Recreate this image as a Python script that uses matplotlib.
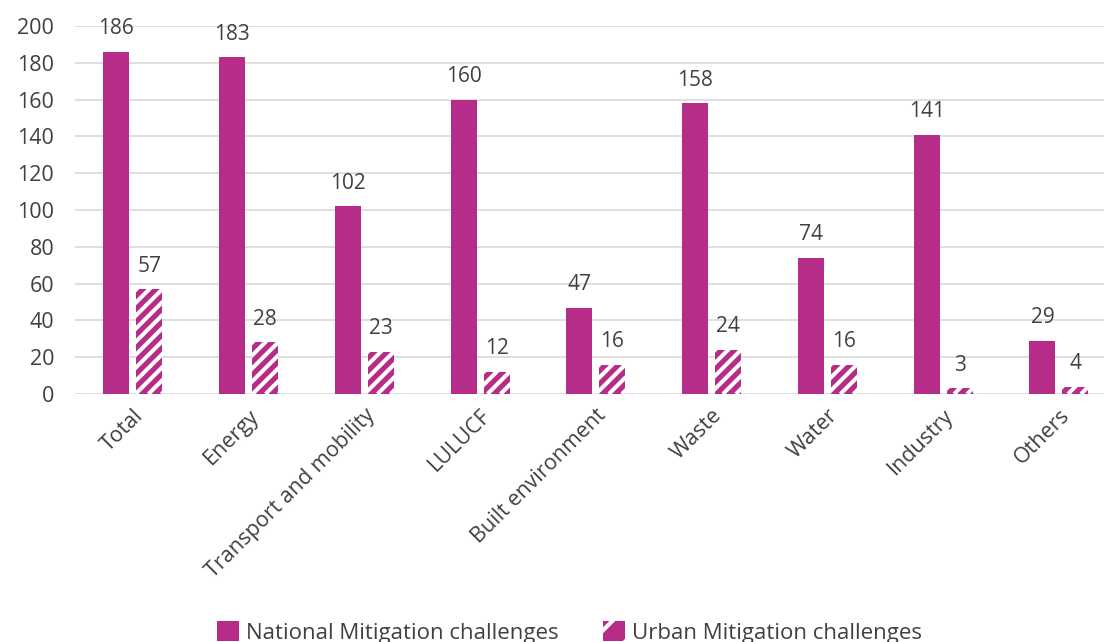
import matplotlib
matplotlib.use("Agg")
import matplotlib.pyplot as plt
import numpy as np
from matplotlib.patches import Patch
from matplotlib.lines import Line2D
from matplotlib.transforms import IdentityTransform

categories = ["Total", "Energy", "Transport and mobility", "LULUCF", "Built environment",
              "Waste", "Water", "Industry", "Others"]
national = [186, 183, 102, 160, 47, 158, 74, 141, 29]
urban = [57, 28, 23, 12, 16, 24, 16, 3, 4]
series_names = ["National Mitigation challenges", "Urban Mitigation challenges"]

plt.rcParams['font.family'] = ['Open Sans', 'DejaVu Sans']
plt.rcParams['hatch.linewidth'] = 3.0
plt.rcParams['hatch.color'] = 'white'

color = "#B52D88"
text_color = "#404040"
FS = 15.5

W, H = 1104, 642
fig = plt.figure(figsize=(W/100, H/100), dpi=100)
ax = fig.add_axes([75/W, 1 - 394/H, (W-75)/W, (394-26)/H])

x = np.arange(len(categories))
w = 0.225
gap = 0.06
off = (w + gap) / 2
b1 = ax.bar(x - off, national, w, color=color, linewidth=0, zorder=3)
b2 = ax.bar(x + off, urban, w, color=color, linewidth=0, zorder=3)

ax.set_ylim(0, 200)
ax.set_xlim(-0.5, -0.5 + (W-75)/115.75)

# custom white diagonal stripes on urban bars (display-pixel spacing)
period = 13.0
for r in b2:
    (x0, y0), (x1, y1) = ax.transData.transform([(r.get_x(), 0), (r.get_x() + r.get_width(), r.get_height())])
    hgt = y1 - y0
    c = -hgt - period
    while c < (x1 - x0) + period:
        xs = np.array([x0 + c, x0 + c + hgt + 2 * period])
        ys = np.array([y0, y0 + hgt + 2 * period])
        ln = Line2D(xs, ys, transform=IdentityTransform(), color='white',
                    linewidth=2.9, solid_capstyle='butt', zorder=4)
        ax.add_artist(ln)
        ln.set_clip_path(r)
        c += period

for bars, vals in ((b1, national), (b2, urban)):
    for r, v in zip(bars, vals):
        ax.annotate(str(v), (r.get_x() + r.get_width()/2, v), xytext=(0, 9),
                    textcoords='offset points', ha='center', va='bottom',
                    fontsize=15, color=text_color)

ax.set_yticks(range(0, 201, 20))
ax.yaxis.grid(True, color='#d9d9d9', linewidth=1.2, zorder=0)
ax.set_axisbelow(True)
for s in ax.spines.values():
    s.set_visible(False)
ax.tick_params(axis='both', length=0, labelsize=FS, labelcolor=text_color)
ax.tick_params(axis='y', pad=15)
ax.set_xticks(x)
ax.set_xticklabels(categories, rotation=45, ha='right', rotation_mode='anchor')
ax.tick_params(axis='x', pad=8)

handles = [Patch(facecolor=color, linewidth=0),
           Patch(facecolor=color, edgecolor='white', hatch='/', linewidth=0)]
fig.legend(handles, series_names, loc='lower center', bbox_to_anchor=(0.516, -0.034),
           ncol=2, frameon=False, fontsize=16, labelcolor=text_color,
           handlelength=1.0, handleheight=1.0, handletextpad=0.3, columnspacing=2.0)

fig.savefig("out.png", dpi=100)
